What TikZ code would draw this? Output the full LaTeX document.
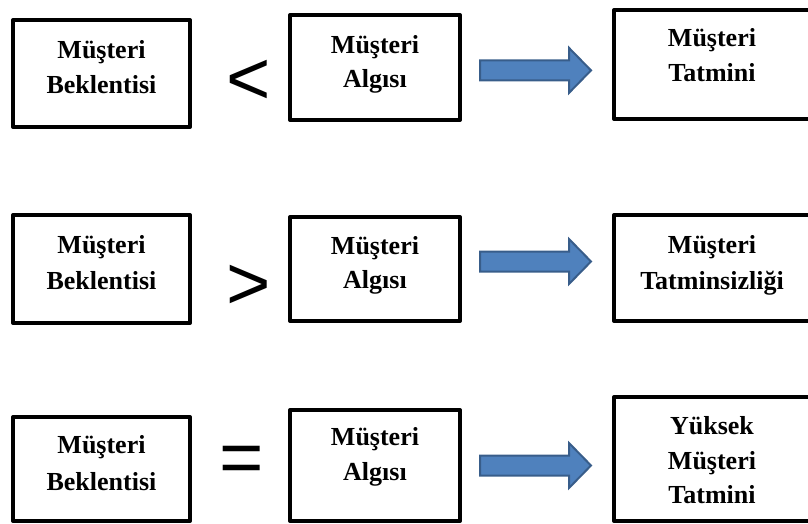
\documentclass[tikz,border=0pt]{standalone}
\usepackage{fontspec}
\setmainfont{Liberation Serif}
\newfontfamily\relfont{Liberation Sans}
\definecolor{arrowfill}{RGB}{79,129,189}
\definecolor{arrowline}{RGB}{56,93,138}
\begin{document}
\begin{tikzpicture}[x=1pt,y=-1pt,
  box/.style={draw=black, line width=4pt, rectangle, inner sep=0pt, line join=round},
  lbl/.style={font=\fontsize{26}{30}\selectfont\bfseries, inner sep=0pt, anchor=base},
  rel/.style={font=\relfont\fontsize{76}{76}\selectfont, inner sep=0pt, anchor=center},
  blockarrow/.pic={
    \draw[fill=arrowfill, draw=arrowline, line width=2pt, line join=miter]
      (0,-10) -- (89,-10) -- (89,-22.5) -- (111,0) -- (89,22.5) -- (89,10) -- (0,10) -- cycle;
  }
]
\useasboundingbox (0,0) rectangle (808,524);
\clip (0,0) rectangle (808,524);

% ---- row 1: expectation < perception -> satisfaction
\node[box, minimum width=177, minimum height=107] (b11) at (101.5,73.5) {};
\node[box, minimum width=170, minimum height=105] (b12) at (375,67.5) {};
\node[box, minimum width=198, minimum height=109] (b13) at (713,64.5) {};
\node[lbl] (t11a) at (101.5,59) {Müşteri};
\node[lbl] (t11b) at (101.5,94) {Beklentisi};
\node[lbl] (t12a) at (375,54) {Müşteri};
\node[lbl] (t12b) at (375,88) {Algısı};
\node[lbl] (t13a) at (712,47) {Müşteri};
\node[lbl] (t13b) at (712,82) {Tatmini};
\node[rel] (r1) at (248.5,82.5) {<};
\pic at (480,70.4) {blockarrow};

% ---- row 2: expectation > perception -> dissatisfaction
\node[box, minimum width=177, minimum height=108] (b21) at (101.5,269) {};
\node[box, minimum width=170, minimum height=104] (b22) at (375,269) {};
\node[box, minimum width=198, minimum height=106] (b23) at (713,268) {};
\node[lbl] (t21a) at (101.5,253) {Müşteri};
\node[lbl] (t21b) at (101.5,289) {Beklentisi};
\node[lbl] (t22a) at (375,254) {Müşteri};
\node[lbl] (t22b) at (375,288) {Algısı};
\node[lbl] (t23a) at (712,253) {Müşteri};
\node[lbl] (t23b) at (712,289) {Tatminsizliği};
\node[rel] (r2) at (248.5,287.5) {>};
\pic at (480,261.5) {blockarrow};

% ---- row 3: expectation = perception -> high satisfaction
\node[box, minimum width=177, minimum height=104] (b31) at (101.5,469) {};
\node[box, minimum width=170, minimum height=111] (b32) at (375,465.5) {};
\node[box, minimum width=198, minimum height=124] (b33) at (713,459) {};
\node[lbl] (t31a) at (101.5,453) {Müşteri};
\node[lbl] (t31b) at (101.5,490) {Beklentisi};
\node[lbl] (t32a) at (375,445) {Müşteri};
\node[lbl] (t32b) at (375,480) {Algısı};
\node[lbl] (t33a) at (712,434) {Yüksek};
\node[lbl] (t33b) at (712,469) {Müşteri};
\node[lbl] (t33c) at (712,503) {Tatmini};
\node[rel] (r3) at (242,465) {=};
\pic at (480,465.5) {blockarrow};
\end{tikzpicture}
\end{document}
